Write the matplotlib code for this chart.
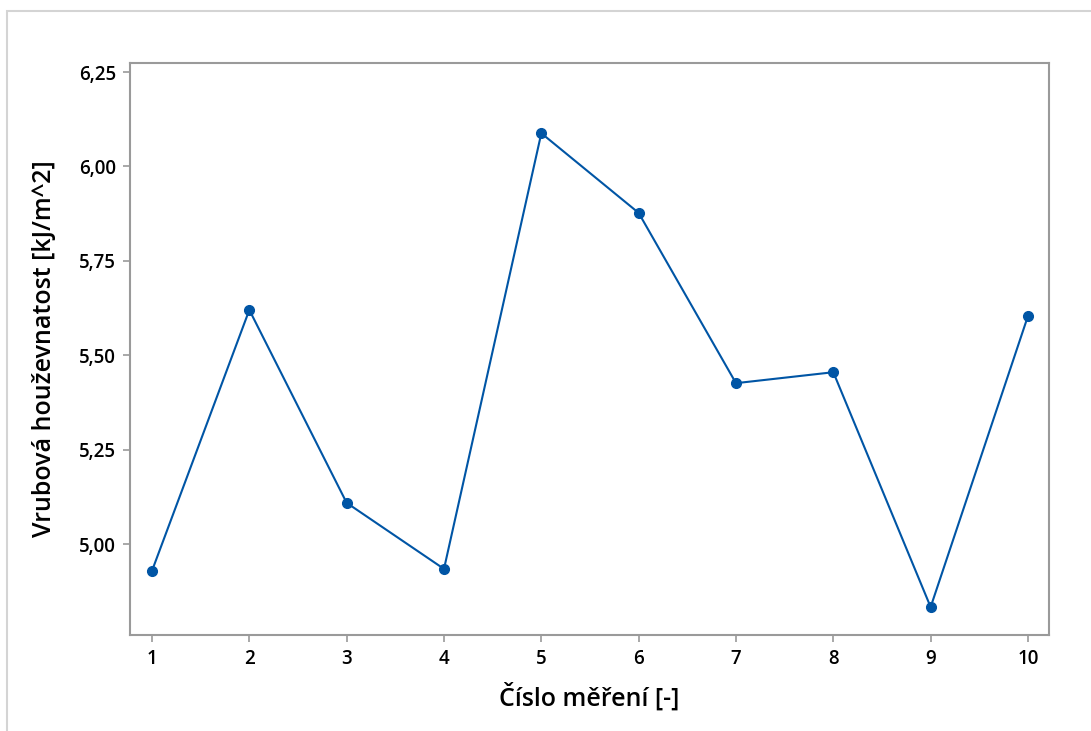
import matplotlib
matplotlib.use("Agg")
import matplotlib.pyplot as plt
from matplotlib.patches import Rectangle

# measurement number and notch impact strength
mereni = [1, 2, 3, 4, 5, 6, 7, 8, 9, 10]
houzevnatost = [4.929, 5.620, 5.109, 4.934, 6.088, 5.877, 5.426, 5.455, 4.833, 5.604]
yticks = [5.00, 5.25, 5.50, 5.75, 6.00, 6.25]

plt.rcParams["font.family"] = ["Open Sans", "DejaVu Sans"]
plt.rcParams["font.weight"] = "semibold"

fig = plt.figure(figsize=(10.91, 7.31), dpi=100)
W, H = 1091, 731
# light outer frame
fig.patches.append(Rectangle((7 / W, -0.1), 1.2, (H - 11) / H + 0.1,
                             transform=fig.transFigure, fill=False,
                             edgecolor="#d4d4d4", lw=1.5))

ax = fig.add_axes([130 / W, (H - 635) / H, 919 / W, 572 / H])
ax.plot(mereni, houzevnatost, "-o", color="#0055a5", lw=1.5, ms=7)

ax.set_xlim(0.774, 10.216)
ax.set_ylim(4.759, 6.274)
ax.set_xticks(mereni)
ax.set_yticks(yticks)
ax.set_yticklabels([f"{v:.2f}".replace(".", ",") for v in yticks])
for s in ax.spines.values():
    s.set_color("#9a9a9a")
    s.set_linewidth(1.5)
ax.tick_params(direction="out", length=5, width=1.2, color="#9a9a9a",
               labelsize=13.5, pad=5)
ax.set_xlabel("Číslo měření [-]", fontsize=18, fontweight="semibold", labelpad=10)
ax.set_ylabel("Vrubová houževnatost [kJ/m^2]", fontsize=18,
              fontweight="semibold", labelpad=16)

fig.savefig("out.png", dpi=100)
